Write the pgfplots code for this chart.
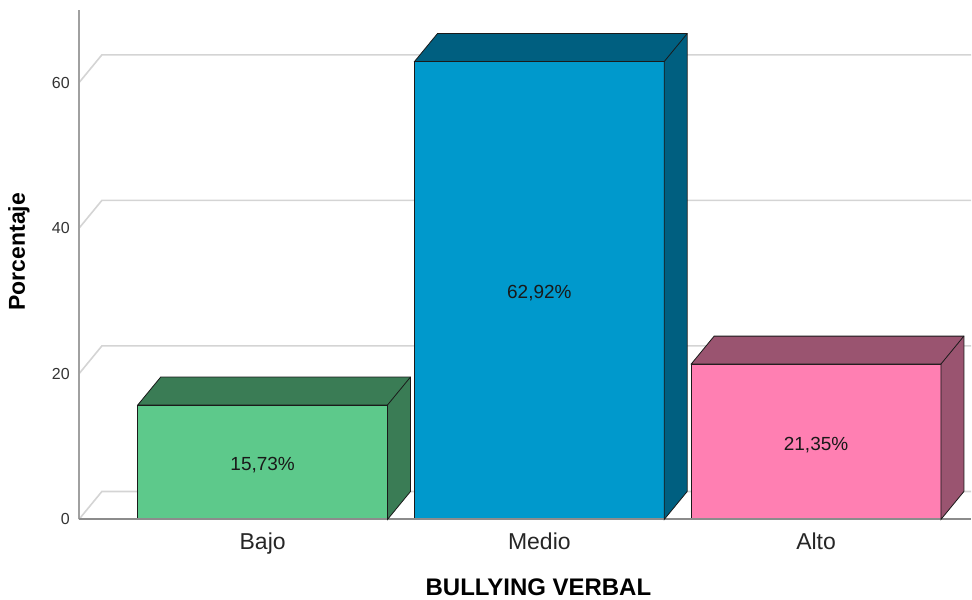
\documentclass[border=0pt]{standalone}
\usepackage{pgfplots}
\usepackage{pgfplotstable}
\pgfplotsset{compat=1.18}
\usepackage{fontspec}
\setmainfont{Liberation Sans}
\definecolor{gfront}{HTML}{5DC98B}
\definecolor{gdark}{HTML}{3A7C55}
\definecolor{bfront}{HTML}{0099CC}
\definecolor{bdark}{HTML}{005F80}
\definecolor{pfront}{HTML}{FF7FB2}
\definecolor{pdark}{HTML}{9A5470}
\definecolor{gridc}{HTML}{D4D4D4}
\definecolor{yaxc}{HTML}{A0A0A0}
\definecolor{xaxc}{HTML}{8C8C8C}
\definecolor{edgec}{HTML}{1A1A1A}

% top + side faces of a 3D bar; origin = front top centre
\pgfdeclareplotmark{box3d}{%
  \pgfmathsetmacro\hh{\val*7.285}%
  \pgfmathsetmacro\hb{28-\hh}%
  \pgfpathmoveto{\pgfqpoint{-125pt}{0pt}}%
  \pgfpathlineto{\pgfqpoint{-102pt}{28pt}}%
  \pgfpathlineto{\pgfqpoint{148pt}{28pt}}%
  \pgfpathlineto{\pgfpoint{148pt}{\hb pt}}%
  \pgfpathlineto{\pgfpoint{125pt}{-\hh pt}}%
  \pgfpathlineto{\pgfqpoint{125pt}{0pt}}%
  \pgfpathclose
  \pgfusepathqfillstroke
  \pgfpathmoveto{\pgfqpoint{125pt}{0pt}}%
  \pgfpathlineto{\pgfqpoint{148pt}{28pt}}%
  \pgfusepathqstroke
}

\pgfplotstableread{
x v
0 15.73
1 62.92
2 21.35
}\datatab

\begin{document}
\begin{tikzpicture}
\begin{axis}[
  x=277pt, y=7.285pt,
  xmin=-0.664, xmax=2.56, ymin=0, ymax=70,
  clip=false,
  axis line style={draw=none},
  major tick length=0pt,
  xtick={0,1,2}, xticklabels={Bajo,Medio,Alto},
  ytick={0,20,40,60},
  /pgf/number format/assume math mode=true,
  yticklabel style={font=\fontsize{16}{18}\selectfont, text=black!80, anchor=east, inner sep=0pt, xshift=-9pt},
  xticklabel style={font=\fontsize{23}{26}\selectfont, text=black!85, anchor=north, inner sep=0pt, yshift=-13pt},
  ylabel={Porcentaje}, xlabel={BULLYING VERBAL},
  every axis y label/.style={at={(axis description cs:0,0.5)}, rotate=90, anchor=center, yshift=60pt, xshift=13pt, font=\fontsize{23}{26}\selectfont\bfseries},
  every axis x label/.style={at={(axis description cs:0,0)}, anchor=center, xshift=460pt, yshift=-68pt, font=\fontsize{24}{28}\selectfont\bfseries},
]
% back-wall gridlines
\pgfplotsinvokeforeach{0,20,40,60}{
  \draw[gridc, line width=1.6pt] (axis cs:-0.664,#1) -- ++(23pt,28pt) -- ([yshift=28pt]axis cs:2.56,#1);
}
% bars
\addplot[ybar, bar width=250pt, bar shift=0pt, fill=gfront, draw=edgec, line width=0.8pt,
  mark=box3d, mark options={fill=gdark, draw=edgec, line width=0.8pt},
  visualization depends on={rawy \as \val},
  restrict expr to domain={\coordindex}{0:0}] table[x=x, y=v] {\datatab};
\addplot[ybar, bar width=250pt, bar shift=0pt, fill=bfront, draw=edgec, line width=0.8pt,
  mark=box3d, mark options={fill=bdark, draw=edgec, line width=0.8pt},
  visualization depends on={rawy \as \val},
  restrict expr to domain={\coordindex}{1:1}] table[x=x, y=v] {\datatab};
\addplot[ybar, bar width=250pt, bar shift=0pt, fill=pfront, draw=edgec, line width=0.8pt,
  mark=box3d, mark options={fill=pdark, draw=edgec, line width=0.8pt},
  visualization depends on={rawy \as \val},
  restrict expr to domain={\coordindex}{2:2}] table[x=x, y=v] {\datatab};
% axis lines
\draw[yaxc, line width=2pt] (axis cs:-0.664,0) -- (axis cs:-0.664,70);
\draw[xaxc, line width=2pt] (axis cs:-0.664,0) -- (axis cs:2.56,0);
% value labels
\addplot[draw=none, mark=none, nodes near coords={\pgfmathprintnumber[fixed, fixed zerofill, precision=2, use comma]{\pgfplotspointmeta}\%},
  nodes near coords align={center},
  every node near coord/.style={anchor=center, yshift=-3pt, font=\fontsize{19}{22}\selectfont, text=black!90},
  point meta=explicit] table[x=x, y expr=\thisrow{v}/2, meta=v] {\datatab};
\end{axis}
\path (current axis.south west) ++(-79pt,-79pt) rectangle ++(972pt,599pt);
\end{tikzpicture}
\end{document}
